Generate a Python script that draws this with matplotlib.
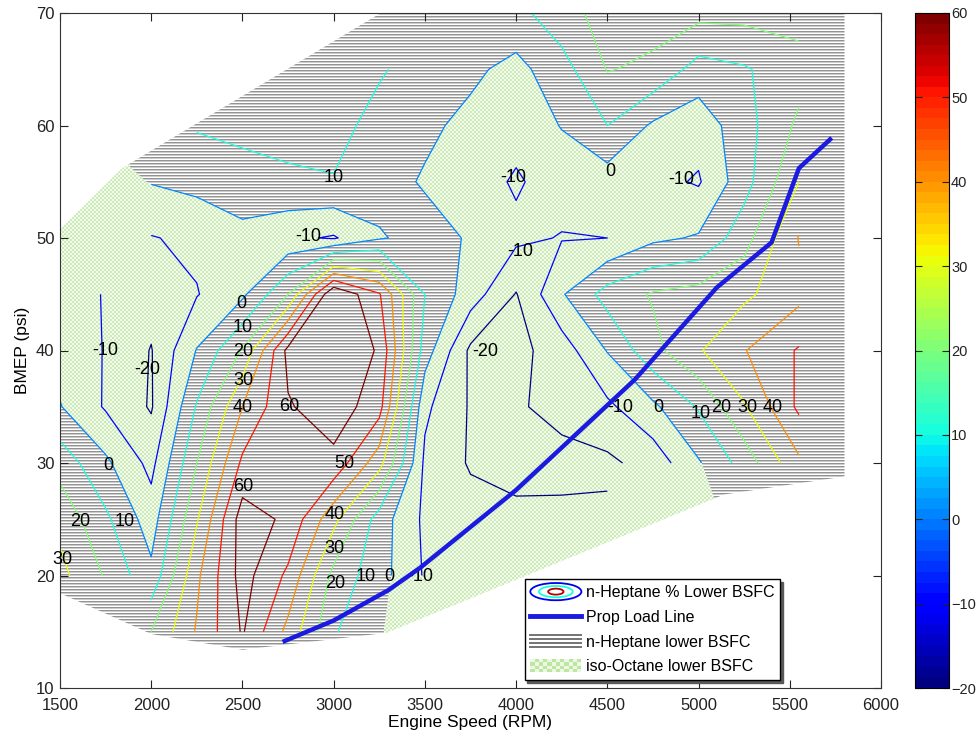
import numpy as np
import matplotlib
matplotlib.use("Agg")
import matplotlib.pyplot as plt
from matplotlib.path import Path
from matplotlib.patches import PathPatch, Ellipse, Rectangle
from matplotlib.lines import Line2D
from matplotlib.legend_handler import HandlerBase
from matplotlib.colors import Normalize
from matplotlib.cm import ScalarMappable

# ---------------------------------------------------------------- data
rpm_grid = [1500, 1750, 2000, 2250, 2500, 2750, 3000, 3250, 3500,
            3750, 4000, 4250, 4500, 4750, 5000, 5250, 5550, 5850]
bmep_grid = [10, 15, 20, 25, 30, 35, 40, 45, 50, 55, 60, 65, 70]

# n-Heptane % lower BSFC, one list per BMEP row (psi), columns follow rpm_grid
pct_bmep10 = [35, 30, 25, 42, 58, 35, 10, 0.5, -8, -10, -11, -11, -11, -9, -5, 1, 20, 25]
pct_bmep15 = [35, 27, 20, 41, 61, 37, 11, 1, -9, -11, -12, -12, -12, -10, -6, 0.5, 20, 25]
pct_bmep20 = [33, 19, 2.5, 38, 64, 48, 17, 4, -11, -13, -14, -14, -14, -12, -8, 0.5, 25, 30]
pct_bmep25 = [27, 12, -5, 29, 65, 58, 33, 5, -12, -16, -16.5, -17, -18, -14, -5, 5, 30, 32]
pct_bmep30 = [16, 2, -13, 20, 52, 57, 57, 34, -12, -21, -25, -24, -22, -16, -1, 14, 38, 40]
pct_bmep35 = [0.5, -11, -21, 11, 40, 59, 66, 54, -8, -21, -21.5, -16, -12, -2, 11, 29, 52, 50]
pct_bmep40 = [-4, -10.5, -20.5, 0.5, 21, 63, 68, 59, 5, -22, -23, -15, 0.5, 17, 29, 39.5, 51, 50]
pct_bmep45 = [-6, -10.5, -16, -10.5, -2, 20, 70, 51, 10, -5, -20.5, -1, 14, 21, 24, 28, 37, 40]
pct_bmep50 = [-3, -11, -10.5, -8, -3.5, -8, -11, -1, 4, -1, -8, -10.5, -10, -2, 1, 16, 40.5, 40]
pct_bmep55 = [-5, -4, 0.5, 3, 7, 8.5, 9.5, 4, -1, -6, -11, -6, -5, -7, -11, 6, 30, 32]
pct_bmep60 = [-5, 2, 8, 11, 12, 13, 13, 7, 2, -2.5, -7, 0.5, 10, -1.5, -6, 6, 22, 25]
pct_bmep65 = [-5, 0, 8, 12, 14, 14, 14, 11, 6, 2, -3, 6, 20.5, 18, 6, 9, 16, 22]
pct_bmep70 = [-5, 0, 8, 12, 14, 15, 14, 11, 8, 5, 7, 16, 24, 24, 23, 23, 24, 25]

# outline of the tested operating envelope
hull_rpm = [1490, 1490, 1840, 3310, 5800, 5800, 5140, 3290, 2500, 2000]
hull_bmep = [18.5, 50.6, 56.2, 70.5, 70.5, 28.8, 27.2, 14.9, 13.4, 14.8]

# region covered by the contoured data
data_rpm = [1490, 1490, 1840, 3310, 5600, 5600, 4600, 4560, 3290, 2500, 2000]
data_bmep = [18.5, 47, 56.2, 70.5, 70.5, 29, 29, 23.5, 14.9, 13.4, 14.8]

# propeller load line
prop_rpm = [2720, 3000, 3300, 3475, 4000, 4650, 5100, 5400, 5550, 5730]
prop_bmep = [14.1, 16.0, 18.7, 20.7, 27.6, 37.4, 45.6, 49.6, 56.2, 58.9]

contour_levels = [-20, -10, 0, 10, 20, 30, 40, 50, 60]

# inline contour labels: (level, rpm, bmep)
contour_labels = [
    (10, 3000, 55.4), (-10, 2860, 50.1), (0, 2493, 44.2), (10, 2504, 42.0),
    (20, 2504, 39.9), (30, 2504, 37.3), (40, 2504, 34.9), (60, 2757, 35.0),
    (50, 3059, 30.0), (60, 2504, 27.9), (40, 3004, 25.4), (30, 3004, 22.4),
    (20, 3009, 19.3), (10, 3174, 19.9), (0, 3306, 19.9), (-10, 3476, 19.9),
    (-10, 1747, 40.0), (-20, 1977, 38.3), (0, 1763, 29.8), (20, 1610, 24.8),
    (10, 1857, 24.8), (30, 1511, 21.4), (-10, 3987, 55.4), (0, 4519, 55.9),
    (-10, 4903, 55.2), (-10, 4025, 48.8), (-20, 3832, 39.9), (-10, 4573, 34.9),
    (0, 4782, 34.9), (10, 5012, 34.4), (20, 5122, 34.9), (30, 5270, 34.9),
    (40, 5407, 34.9),
]

# ---------------------------------------------------------------- setup
regular = ['Liberation Sans', 'DejaVu Sans']
narrow = ['Liberation Sans Narrow', 'Liberation Sans', 'DejaVu Sans']

cmap = plt.get_cmap('jet', 64)
norm = Normalize(vmin=-20, vmax=60)
prop_color = (0.1, 0.1, 0.88)

fig = plt.figure(figsize=(9.76, 7.38), dpi=100)
ax_w_px, ax_h_px = 821, 675
ax = fig.add_axes([60 / 976, 50 / 738, ax_w_px / 976, ax_h_px / 738])

X, Y = np.meshgrid(rpm_grid, bmep_grid)
Z = np.array([pct_bmep10, pct_bmep15, pct_bmep20, pct_bmep25, pct_bmep30,
              pct_bmep35, pct_bmep40, pct_bmep45, pct_bmep50, pct_bmep55,
              pct_bmep60, pct_bmep65, pct_bmep70], dtype=float)

# split the map into "iso-octane better" (<0) and "n-heptane better" (>0)
split = ax.contourf(X, Y, Z, levels=[-1000, 0, 1000])
neg_path, pos_path = split.get_paths()[:2]
split.remove()

# fill patterns: grey horizontal rules and a pale green checkerboard
rows = np.arange(ax_h_px)[:, None] * np.ones((1, ax_w_px))
cols = np.ones((ax_h_px, 1)) * np.arange(ax_w_px)[None, :]
shade = np.select([rows % 3 == 0, rows % 3 == 1], [0.58, 0.80], 1.0)
stripes = np.dstack([shade, shade, shade, np.ones_like(shade)])
chk = ((rows // 2 + cols // 2) % 2 == 0)
green = np.array([0.80, 0.92, 0.71])
light = np.array([0.96, 0.985, 0.94])
checker = np.where(chk[..., None], green, light)
checker = np.dstack([checker, np.ones_like(shade)])

ext = (1500, 6000, 10, 70)
im_pos = ax.imshow(stripes, extent=ext, origin='upper', aspect='auto',
                   interpolation='nearest', zorder=0.2)
im_pos.set_clip_path(pos_path, transform=ax.transData)
im_neg = ax.imshow(checker, extent=ext, origin='upper', aspect='auto',
                   interpolation='nearest', zorder=0.2)
im_neg.set_clip_path(neg_path, transform=ax.transData)

# blank everything outside the tested envelope
outer = [(1400, 5), (6100, 5), (6100, 75), (1400, 75), (1400, 5)]
hull = list(zip(hull_rpm, hull_bmep))
verts = outer + hull + [hull[0]]
codes = ([Path.MOVETO] + [Path.LINETO] * 3 + [Path.CLOSEPOLY] +
         [Path.MOVETO] + [Path.LINETO] * (len(hull) - 1) + [Path.CLOSEPOLY])
ax.add_patch(PathPatch(Path(verts, codes), facecolor='white',
                       edgecolor='none', zorder=0.5))

# contour lines only where the data grid is covered
dom = Path(list(zip(data_rpm, data_bmep)) + [(data_rpm[0], data_bmep[0])])
inside = dom.contains_points(np.column_stack([X.ravel(), Y.ravel()])).reshape(X.shape)
Zl = np.ma.masked_where(~inside, Z)
ax.contour(X, Y, Zl, levels=contour_levels, cmap=cmap, norm=norm,
           linewidths=0.9, zorder=2, corner_mask=False)

for lev, x, y in contour_labels:
    ax.text(x, y, f"{lev:d}", fontsize=13, family=regular, ha='center',
            va='center', color='black', zorder=3)

ax.plot(prop_rpm, prop_bmep, color=prop_color, lw=3.2, zorder=4,
        solid_capstyle='butt')

ax.set_xlim(1500, 6000)
ax.set_ylim(10, 70)
ax.set_xticks(range(1500, 6001, 500))
ax.set_yticks(range(10, 71, 10))
ax.tick_params(direction='in', top=True, right=True, length=6, width=0.8,
               labelsize=12, colors='#222222')
ax.tick_params(axis='x', pad=7)
ax.tick_params(axis='y', pad=4)
for lab in ax.get_xticklabels() + ax.get_yticklabels():
    lab.set_family(narrow)
for sp in ax.spines.values():
    sp.set_linewidth(0.8)
    sp.set_color('#333333')
ax.set_xlabel('Engine Speed (RPM)', fontsize=12.5, family=narrow, labelpad=2)
ax.set_ylabel('BMEP (psi)', fontsize=12.5, family=narrow, labelpad=4)


# ---------------------------------------------------------------- legend
class ContourIcon:
    pass


class RuleIcon:
    pass


class CheckerIcon:
    pass


class HandlerContourIcon(HandlerBase):
    def create_artists(self, legend, orig_handle, xdescent, ydescent,
                       width, height, fontsize, trans):
        cx, cy = -xdescent + width / 2, -ydescent + height / 2
        out = []
        for fw, fh, lev in [(1.0, 1.3, -12), (0.66, 0.85, 10), (0.3, 0.45, 55)]:
            out.append(Ellipse((cx, cy), width * fw, height * fh,
                               facecolor='none', edgecolor=cmap(norm(lev)),
                               lw=1.3, transform=trans))
        return out


class HandlerRuleIcon(HandlerBase):
    def create_artists(self, legend, orig_handle, xdescent, ydescent,
                       width, height, fontsize, trans):
        out = []
        for k in range(4):
            yy = -ydescent + height * (0.05 + 0.3 * k)
            out.append(Line2D([-xdescent, -xdescent + width], [yy, yy],
                              color='0.45', lw=1.4, transform=trans))
        return out


class HandlerCheckerIcon(HandlerBase):
    def create_artists(self, legend, orig_handle, xdescent, ydescent,
                       width, height, fontsize, trans):
        out = []
        nx, ny = 12, 4
        sx, sy = width / nx, height / ny
        for i in range(nx):
            for j in range(ny):
                col = (0.75, 0.9, 0.62) if (i + j) % 2 == 0 else (0.93, 0.97, 0.9)
                out.append(Rectangle((-xdescent + i * sx, -ydescent + j * sy),
                                     sx, sy, facecolor=col, edgecolor='none',
                                     transform=trans))
        return out


handles = [ContourIcon(), Line2D([], [], color=prop_color, lw=3.5),
           RuleIcon(), CheckerIcon()]
labels = ['n-Heptane % Lower BSFC', 'Prop Load Line',
          'n-Heptane lower BSFC', 'iso-Octane lower BSFC']
leg = ax.legend(handles, labels,
                handler_map={ContourIcon: HandlerContourIcon(),
                             RuleIcon: HandlerRuleIcon(),
                             CheckerIcon: HandlerCheckerIcon()},
                loc='lower left', bbox_to_anchor=(0.566, 0.012),
                borderaxespad=0, prop={'family': regular, 'size': 11.5},
                frameon=True, fancybox=False, edgecolor='black',
                framealpha=1, handlelength=3.2, handleheight=0.9,
                handletextpad=0.3, labelspacing=0.6, borderpad=0.35,
                shadow={'color': '0.35', 'alpha': 1})
leg.get_frame().set_linewidth(1.0)
leg.set_zorder(6)

# ---------------------------------------------------------------- colorbar
cax = fig.add_axes([915 / 976, 50 / 738, 34 / 976, 675 / 738])
cb = fig.colorbar(ScalarMappable(norm=norm, cmap=cmap), cax=cax,
                  ticks=range(-20, 61, 10))
cb.outline.set_linewidth(0.8)
cax.tick_params(direction='in', left=True, right=True, length=5, width=0.8,
                labelsize=10.5, pad=1.5, colors='#222222')
for lab in cax.get_yticklabels():
    lab.set_family(narrow)

fig.savefig('out.png', dpi=100)
